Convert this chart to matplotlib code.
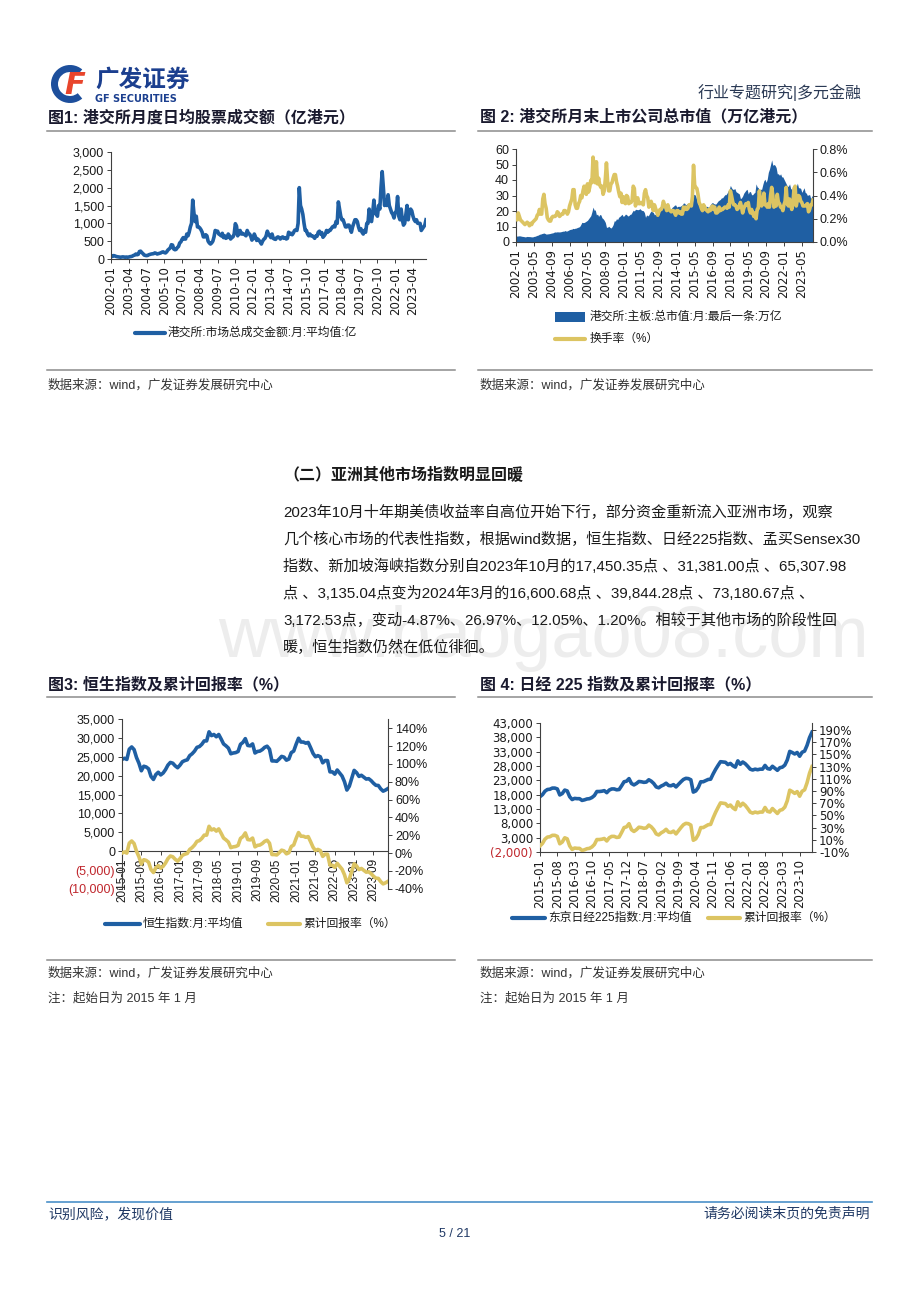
import numpy as np
import pandas as pd
import matplotlib
matplotlib.use('Agg')
import matplotlib.pyplot as plt
from matplotlib.patches import Wedge, Rectangle

plt.rcParams['font.family'] = ['Liberation Sans', 'Noto Sans CJK SC', 'DejaVu Sans']
plt.rcParams['axes.unicode_minus'] = False

BLUE = '#1f5fa3'
GOLD = '#dcc462'
NAVY = '#1f3864'
RED = '#c0272d'

# ---- chart 1: HKEX average daily turnover (100m HKD), monthly 2002-01..2024-03
hk_turnover = [
    80, 70, 95, 90, 75, 65, 60, 55, 50, 55, 60, 55,
    50, 55, 50, 55, 65, 70, 80, 100, 110, 140, 120, 130,
    210, 220, 180, 150, 110, 100, 95, 100, 120, 130, 140, 145,
    150, 170, 160, 140, 150, 160, 170, 190, 200, 180, 170, 200,
    250, 280, 310, 400, 390, 280, 260, 270, 320, 350, 450, 480,
    550, 600, 560, 560, 700, 650, 750, 900, 1000, 1650, 1300, 1050,
    1200, 900, 900, 870, 820, 750, 620, 620, 680, 650, 500, 450,
    420, 450, 500, 620, 800, 780, 780, 700, 680, 650, 720, 600,
    650, 580, 600, 700, 650, 560, 600, 620, 700, 990, 920, 650,
    750, 800, 700, 720, 700, 680, 650, 800, 720, 700, 640, 530,
    580, 700, 620, 520, 560, 520, 480, 420, 500, 550, 580, 650,
    780, 700, 650, 600, 700, 580, 560, 550, 600, 620, 600, 560,
    600, 620, 580, 600, 560, 580, 750, 700, 720, 680, 730, 800,
    820, 800, 1000, 2000, 1500, 1400, 1250, 1000, 800, 800, 700, 650,
    700, 650, 650, 620, 580, 650, 640, 750, 780, 700, 740, 610,
    650, 700, 800, 750, 800, 800, 850, 900, 920, 900, 1050, 1000,
    1600, 1400, 1200, 1100, 1100, 1000, 900, 900, 950, 950, 850, 750,
    900, 1000, 1100, 1100, 1050, 900, 800, 850, 750, 700, 800, 750,
    1000, 1000, 1400, 1100, 1050, 1300, 1650, 1300, 1250, 1200, 1500, 1400,
    2000, 2450, 2000, 1500, 1600, 1500, 1800, 1500, 1400, 1300, 1250, 1150,
    1300, 1350, 1750, 1200, 1100, 1400, 1100, 950, 1000, 1250, 1500, 1100,
    1350, 1400, 1350, 1200, 1100, 1050, 1100, 1000, 1000, 1000, 800, 850,
    900, 950, 1100,
]

# ---- chart 2: main board market cap (trn HKD) and turnover rate (%)
hk_mcap = [
    3.9, 3.8, 3.9, 4.0, 3.9, 3.7, 3.6, 3.5, 3.3, 3.4, 3.6, 3.5,
    3.5, 3.4, 3.3, 3.3, 3.6, 3.7, 4.0, 4.3, 4.5, 5.0, 5.1, 5.4,
    5.6, 5.8, 5.5, 5.1, 5.2, 5.3, 5.4, 5.6, 5.8, 5.9, 6.3, 6.5,
    6.4, 6.6, 6.5, 6.5, 6.6, 6.8, 7.0, 7.0, 7.4, 7.0, 7.2, 7.6,
    8.0, 8.2, 8.3, 8.8, 8.6, 8.9, 9.0, 9.4, 9.6, 10.0, 11.2, 12.7,
    12.5, 12.6, 13.0, 13.5, 14.0, 15.0, 16.0, 17.0, 19.5, 22.5, 20.5, 20.7,
    17.5, 18.0, 16.5, 17.7, 17.5, 15.6, 15.0, 14.0, 12.6, 9.5, 9.5, 10.2,
    9.5, 9.0, 9.8, 11.2, 13.7, 13.5, 15.0, 14.5, 16.0, 16.5, 17.2, 17.9,
    16.5, 17.0, 18.0, 17.7, 16.8, 17.0, 17.8, 18.0, 19.3, 20.5, 20.0, 21.1,
    21.0, 20.8, 21.0, 21.5, 20.7, 20.3, 20.2, 19.0, 15.9, 17.5, 16.8, 17.5,
    19.0, 20.0, 19.5, 19.0, 17.5, 18.0, 18.5, 18.5, 19.5, 20.0, 20.5, 21.9,
    22.5, 22.0, 22.0, 22.2, 22.0, 20.5, 21.0, 21.5, 22.5, 23.0, 23.8, 23.9,
    22.5, 23.0, 23.0, 23.0, 23.5, 24.0, 25.2, 25.0, 24.0, 24.5, 25.0, 24.8,
    25.5, 25.5, 25.5, 30.5, 30.8, 29.5, 27.0, 24.5, 23.5, 25.0, 24.5, 24.3,
    22.0, 21.5, 23.0, 23.0, 22.5, 22.8, 24.0, 25.0, 25.5, 24.8, 24.5, 24.5,
    25.5, 26.5, 27.0, 27.5, 28.5, 28.5, 29.5, 30.5, 30.5, 31.5, 33.0, 33.8,
    36.5, 35.0, 34.0, 34.0, 34.5, 32.5, 32.0, 31.5, 31.0, 28.0, 28.5, 29.7,
    31.5, 32.5, 33.5, 34.0, 31.0, 32.5, 32.5, 30.5, 30.5, 31.5, 32.0, 37.5,
    35.5, 35.0, 32.0, 34.0, 34.0, 37.0, 39.5, 40.5, 38.5, 40.5, 45.0, 47.0,
    50.0, 53.0, 49.5, 50.0, 49.5, 48.0, 44.0, 44.0, 43.0, 44.0, 42.0, 42.0,
    40.5, 39.0, 37.5, 36.0, 36.0, 37.5, 34.5, 34.0, 30.0, 27.0, 31.5, 35.5,
    38.0, 35.0, 35.0, 34.5, 32.0, 33.5, 35.0, 32.0, 31.5, 30.0, 30.5, 30.5,
    28.0, 29.5, 30.5,
]
turnover_rate = [
    0.20, 0.19, 0.25, 0.22, 0.19, 0.18, 0.17, 0.16, 0.15, 0.16, 0.17, 0.16,
    0.14, 0.16, 0.15, 0.17, 0.18, 0.19, 0.20, 0.23, 0.24, 0.28, 0.24, 0.24,
    0.37, 0.41, 0.33, 0.29, 0.21, 0.19, 0.18, 0.18, 0.21, 0.22, 0.22, 0.22,
    0.23, 0.26, 0.25, 0.22, 0.23, 0.24, 0.24, 0.27, 0.27, 0.26, 0.24, 0.26,
    0.31, 0.34, 0.37, 0.45, 0.45, 0.32, 0.29, 0.29, 0.33, 0.35, 0.40, 0.38,
    0.44, 0.48, 0.43, 0.41, 0.50, 0.43, 0.47, 0.53, 0.51, 0.73, 0.63, 0.51,
    0.69, 0.50, 0.55, 0.49, 0.47, 0.48, 0.41, 0.44, 0.54, 0.68, 0.53, 0.44,
    0.44, 0.50, 0.51, 0.55, 0.58, 0.58, 0.52, 0.48, 0.43, 0.39, 0.42, 0.34,
    0.39, 0.34, 0.33, 0.40, 0.39, 0.33, 0.34, 0.34, 0.36, 0.48, 0.46, 0.31,
    0.36, 0.38, 0.33, 0.33, 0.34, 0.33, 0.32, 0.42, 0.45, 0.40, 0.38, 0.30,
    0.31, 0.35, 0.32, 0.27, 0.32, 0.29, 0.26, 0.23, 0.26, 0.28, 0.28, 0.30,
    0.35, 0.32, 0.30, 0.27, 0.32, 0.28, 0.27, 0.26, 0.27, 0.27, 0.25, 0.23,
    0.27, 0.27, 0.25, 0.26, 0.24, 0.24, 0.30, 0.28, 0.30, 0.28, 0.29, 0.32,
    0.32, 0.31, 0.39, 0.66, 0.49, 0.47, 0.46, 0.41, 0.34, 0.32, 0.29, 0.27,
    0.32, 0.30, 0.28, 0.27, 0.26, 0.28, 0.27, 0.30, 0.31, 0.28, 0.30, 0.25,
    0.25, 0.26, 0.30, 0.27, 0.28, 0.28, 0.29, 0.30, 0.30, 0.29, 0.32, 0.30,
    0.44, 0.40, 0.35, 0.32, 0.32, 0.31, 0.28, 0.29, 0.31, 0.34, 0.30, 0.25,
    0.29, 0.31, 0.33, 0.32, 0.34, 0.28, 0.25, 0.28, 0.25, 0.22, 0.25, 0.20,
    0.28, 0.29, 0.44, 0.32, 0.31, 0.35, 0.42, 0.32, 0.32, 0.30, 0.33, 0.30,
    0.40, 0.47, 0.40, 0.30, 0.32, 0.31, 0.41, 0.34, 0.33, 0.30, 0.30, 0.27,
    0.32, 0.35, 0.47, 0.33, 0.31, 0.37, 0.32, 0.28, 0.33, 0.46, 0.48, 0.31,
    0.36, 0.40, 0.39, 0.35, 0.34, 0.31, 0.31, 0.31, 0.32, 0.33, 0.26, 0.28,
    0.32, 0.32, 0.36,
]

# ---- chart 3: Hang Seng index monthly average, 2015-01..2024-03
hsi = [
    24300, 24600, 24300, 27000, 27600, 26900, 24800, 23300, 21300, 22500, 22300, 21800,
    19800, 19000, 20300, 20900, 20200, 20700, 21600, 22800, 23500, 23300, 22600, 22100,
    22800, 23700, 24000, 24200, 25300, 25800, 26500, 27500, 27700, 28300, 29200, 29200,
    31600, 30600, 30900, 30300, 30900, 29700, 28400, 27900, 27300, 25800, 26000, 26100,
    26400, 28300, 28800, 29800, 28000, 27900, 28400, 26000, 26400, 26500, 26900, 27500,
    27800, 27000, 23900, 23900, 23800, 24400, 25100, 24900, 24100, 24400, 26100, 26500,
    28300, 29900, 28900, 28900, 28600, 28800, 27400, 25900, 25000, 25300, 25000, 23400,
    24000, 24000, 21000, 21000, 20400, 21500, 20700, 19900, 18400, 16200, 17200, 19300,
    21400, 20800, 19800, 20100, 19600, 19100, 19200, 18700, 18000, 17450, 17400, 16500,
    15900, 16200, 16600,
]

# ---- chart 4: Nikkei 225 monthly average, 2015-01..2024-03
nikkei = [
    17300, 18000, 19200, 19800, 19900, 20300, 20300, 20000, 17900, 18400, 19600, 19300,
    17300, 16300, 16700, 16600, 16600, 16000, 16200, 16500, 16600, 17000, 17700, 19100,
    19100, 19200, 19400, 18700, 19600, 20000, 20000, 19700, 19800, 21100, 22500, 22700,
    23600, 21900, 21400, 21900, 22600, 22500, 22300, 22400, 23200, 22700, 21900, 20700,
    20400, 21000, 21400, 22000, 21200, 21100, 21500, 20700, 21600, 22500, 23300, 23700,
    23600, 23200, 18900, 19300, 20500, 22500, 22500, 22900, 23300, 23400, 25200, 26800,
    28200, 29500, 29400, 29300, 28500, 28900, 28100, 27600, 29800, 28600, 29400, 28800,
    27900, 26900, 26600, 26900, 26700, 26900, 26900, 28200, 27100, 26900, 27900, 27200,
    26500, 27400, 27600, 28300, 30100, 33100, 32700, 32200, 32700, 31400, 32800, 33200,
    35200, 37900, 39800,
]

months1 = list(pd.period_range('2002-01', periods=len(hk_turnover), freq='M').strftime('%Y-%m'))
months3 = list(pd.period_range('2015-01', periods=len(hsi), freq='M').strftime('%Y-%m'))

# cumulative return vs. the first month (%)
hsi_ret = (np.array(hsi) / hsi[0] - 1) * 100
nikkei_ret = (np.array(nikkei) / nikkei[0] - 1) * 100

W, H = 920, 1302
fig = plt.figure(figsize=(W / 100, H / 100), dpi=100)

# overlay in pixel coords (y down) for page text, rules, logo
pg = fig.add_axes([0, 0, 1, 1])
pg.set_xlim(0, W)
pg.set_ylim(H, 0)
pg.axis('off')


def px_ax(x0, y0, x1, y1):
    ax = fig.add_axes([x0 / W, 1 - y1 / H, (x1 - x0) / W, (y1 - y0) / H])
    ax.patch.set_alpha(0)
    return ax


def style(ax, right=False):
    for s in ['top', 'right', 'left', 'bottom']:
        ax.spines[s].set_visible(False)
    sides = ['right'] if right else ['left', 'bottom']
    for s in sides:
        ax.spines[s].set_visible(True)
        ax.spines[s].set_color('#404040')
        ax.spines[s].set_linewidth(0.8)
    ax.tick_params(direction='out', length=3, width=0.7, color='#404040', labelcolor='#1a1a1a', labelsize=9, pad=2)


def paren(v):
    return '({:,.0f})'.format(-v) if v < 0 else '{:,.0f}'.format(v)


def line_key(x0, x1, y, color):
    pg.plot([x0, x1], [y, y], color=color, lw=3, solid_capstyle='round')


# ---------------- chart 1
ax1 = px_ax(111, 152, 426, 259)
x1 = np.arange(len(hk_turnover))
ax1.plot(x1, hk_turnover, color=BLUE, lw=2.6, solid_joinstyle='round')
ax1.set_xlim(0, len(x1) - 1)
ax1.set_ylim(0, 3000)
style(ax1)
ax1.set_yticks(range(0, 3001, 500))
ax1.set_yticklabels([paren(v) for v in range(0, 3001, 500)])
ax1.set_xticks(x1[::15])
ax1.set_xticklabels(months1[::15], rotation=90, family='DejaVu Sans', fontsize=8.5)
line_key(135, 165, 333, BLUE)
pg.text(168, 333, '港交所:市场总成交金额:月:平均值:亿', fontsize=8.5, va='center', color='#1a1a1a')

# ---------------- chart 2
ax2 = px_ax(516, 149, 813, 242)
x2 = np.arange(len(hk_mcap))
ax2.fill_between(x2, 0, hk_mcap, color=BLUE, lw=0)
ax2.set_xlim(0, len(x2) - 1)
ax2.set_ylim(0, 60)
style(ax2)
ax2.set_yticks(range(0, 61, 10))
ax2.set_xticks(x2[::16])
ax2.set_xticklabels(months1[::16], rotation=90, family='DejaVu Sans', fontsize=8.5)
ax2r = ax2.twinx()
ax2r.plot(x2, turnover_rate, color=GOLD, lw=2.6, solid_joinstyle='round')
ax2r.set_ylim(0, 0.8)
style(ax2r, right=True)
ax2r.set_yticks([0, 0.2, 0.4, 0.6, 0.8])
ax2r.set_yticklabels(['%.1f%%' % v for v in [0, 0.2, 0.4, 0.6, 0.8]])
pg.add_patch(Rectangle((555, 312), 30, 10, color=BLUE, lw=0))
pg.text(590, 317, '港交所:主板:总市值:月:最后一条:万亿', fontsize=8.5, va='center', color='#1a1a1a')
line_key(555, 585, 339, GOLD)
pg.text(590, 339, '换手率（%）', fontsize=8.5, va='center', color='#1a1a1a')

# ---------------- chart 3
ax3 = px_ax(122, 719, 388, 889)
x3 = np.arange(len(hsi))
ax3.plot(x3, hsi, color=BLUE, lw=2.6, solid_joinstyle='round')
ax3.set_xlim(0, len(x3) - 1)
ax3.set_ylim(-10000, 35000)
style(ax3)
ax3.spines['bottom'].set_position(('data', 0))
t3 = list(range(-10000, 35001, 5000))
ax3.set_yticks(t3)
ax3.set_yticklabels([paren(v) for v in t3])
for lab, v in zip(ax3.get_yticklabels(), t3):
    if v < 0:
        lab.set_color(RED)
ax3.set_xticks(x3[::8])
ax3.set_xticklabels(months3[::8], rotation=90, fontsize=8.5)
ax3r = ax3.twinx()
ax3r.plot(x3, hsi_ret, color=GOLD, lw=2.6, solid_joinstyle='round')
ax3r.set_ylim(-40.3, 150.5)
style(ax3r, right=True)
r3 = list(range(-40, 141, 20))
ax3r.set_yticks(r3)
ax3r.set_yticklabels(['%d%%' % v for v in r3])
line_key(105, 140, 924, BLUE)
pg.text(143, 924, '恒生指数:月:平均值', fontsize=8.5, va='center', color='#1a1a1a')
line_key(268, 300, 924, GOLD)
pg.text(303, 924, '累计回报率（%）', fontsize=8.5, va='center', color='#1a1a1a')

# ---------------- chart 4
ax4 = px_ax(540, 723, 812, 852)
x4 = np.arange(len(nikkei))
ax4.plot(x4, nikkei, color=BLUE, lw=2.6, solid_joinstyle='round')
ax4.set_xlim(0, len(x4) - 1)
ax4.set_ylim(-2000, 43000)
style(ax4)
t4 = list(range(-2000, 43001, 5000))
ax4.set_yticks(t4)
ax4.set_yticklabels([paren(v) for v in t4], family='DejaVu Sans', fontsize=8.5)
for lab, v in zip(ax4.get_yticklabels(), t4):
    if v < 0:
        lab.set_color(RED)
ax4.set_xticks(x4[::7])
ax4.set_xticklabels(months3[::7], rotation=90, family='DejaVu Sans', fontsize=8.5)
ax4r = ax4.twinx()
ax4r.plot(x4, nikkei_ret, color=GOLD, lw=2.6, solid_joinstyle='round')
ax4r.set_ylim(-10, 201.5)
style(ax4r, right=True)
r4 = list(range(-10, 191, 20))
ax4r.set_yticks(r4)
ax4r.set_yticklabels(['%d%%' % v for v in r4], family='DejaVu Sans', fontsize=8.5)
line_key(512, 545, 918, BLUE)
pg.text(548, 918, '东京日经225指数:月:平均值', fontsize=8.5, va='center', color='#1a1a1a')
line_key(708, 740, 918, GOLD)
pg.text(743, 918, '累计回报率（%）', fontsize=8.5, va='center', color='#1a1a1a')

# ---------------- page furniture
# logo
pg.add_patch(Wedge((70, 84), 19, 50, 310, width=7, color='#1d4f9c', lw=0))
pg.text(75, 86, 'F', fontsize=22, fontweight='bold', style='italic', color='#e8452c',
        ha='center', va='center', family='DejaVu Sans')
pg.text(95, 80, '广发证券', fontsize=17, fontweight='bold', color='#1b3f8f', va='center')
pg.text(95, 99, 'GF SECURITIES', fontsize=7, fontweight='bold', color='#1b3f8f', va='center',
        family='DejaVu Sans')
pg.text(862, 93, '行业专题研究|多元金融', fontsize=11.5, color='#2b3a55', va='center', ha='right')

TITLE = dict(fontsize=11.5, fontweight='bold', color='#1a1a2e', va='center')
SRC = dict(fontsize=9, color='#333333', va='center')
RULE = dict(color='#8c8c8c', lw=1.1)

pg.text(48, 117, '图1: 港交所月度日均股票成交额（亿港元）', **TITLE)
pg.text(480, 117, '图 2: 港交所月末上市公司总市值（万亿港元）', **TITLE)
pg.plot([47, 455], [131, 131], **RULE)
pg.plot([478, 872], [131, 131], **RULE)
pg.plot([47, 455], [370, 370], **RULE)
pg.plot([478, 872], [370, 370], **RULE)
pg.text(48, 385, '数据来源：wind，广发证券发展研究中心', **SRC)
pg.text(480, 385, '数据来源：wind，广发证券发展研究中心', **SRC)

pg.text(283, 474, '（二）亚洲其他市场指数明显回暖', fontsize=11.5, fontweight='bold', color='#1a1a1a', va='center')

pg.text(218, 638, 'www.baogao08.com', fontsize=52, color='#ededed', va='center', zorder=0)

body = [
    '2023年10月十年期美债收益率自高位开始下行，部分资金重新流入亚洲市场，观察',
    '几个核心市场的代表性指数，根据wind数据，恒生指数、日经225指数、孟买Sensex30',
    '指数、新加坡海峡指数分别自2023年10月的17,450.35点 、31,381.00点 、65,307.98',
    '点 、3,135.04点变为2024年3月的16,600.68点 、39,844.28点 、73,180.67点 、',
    '3,172.53点，变动-4.87%、26.97%、12.05%、1.20%。相较于其他市场的阶段性回',
    '暖，恒生指数仍然在低位徘徊。',
]
for i, s in enumerate(body):
    pg.text(283, 512 + 27 * i, s, fontsize=10.9, color='#1a1a1a', va='center', zorder=2)

pg.text(48, 685, '图3: 恒生指数及累计回报率（%）', **TITLE)
pg.text(480, 685, '图 4: 日经 225 指数及累计回报率（%）', **TITLE)
pg.plot([47, 455], [697, 697], **RULE)
pg.plot([478, 872], [697, 697], **RULE)
pg.plot([47, 455], [960, 960], **RULE)
pg.plot([478, 872], [960, 960], **RULE)
pg.text(48, 973, '数据来源：wind，广发证券发展研究中心', **SRC)
pg.text(480, 973, '数据来源：wind，广发证券发展研究中心', **SRC)
pg.text(48, 998, '注：起始日为 2015 年 1 月', **SRC)
pg.text(480, 998, '注：起始日为 2015 年 1 月', **SRC)

# footer
pg.plot([47, 872], [1202, 1202], color='#4a90c8', lw=1.2)
pg.text(48, 1214, '识别风险，发现价值', fontsize=10, color=NAVY, va='center')
pg.text(870, 1214, '请务必阅读末页的免责声明', fontsize=10, color=NAVY, va='center', ha='right')
pg.text(455, 1234, '5 / 21', fontsize=9, color=NAVY, va='center', ha='center')

fig.savefig('out.png', dpi=100)
